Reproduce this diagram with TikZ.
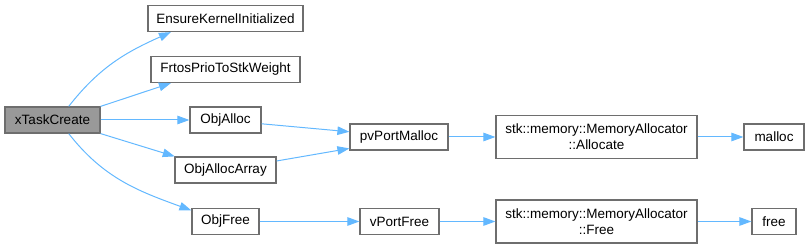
\documentclass[tikz,border=0pt]{standalone}
\usepackage{fontspec}
\setmainfont{Liberation Sans}
\usetikzlibrary{arrows.meta}
\definecolor{edgeblue}{RGB}{99,184,255}
\definecolor{boxline}{RGB}{110,110,110}
\definecolor{rootfill}{RGB}{153,153,153}

\begin{document}
\begin{tikzpicture}[x=1pt,y=-1pt,font=\fontsize{13.5}{16}\selectfont,
  fnbox/.style={draw=boxline,line width=1.2pt,fill=white,inner sep=0pt,align=center,minimum height=26pt},
  rootbox/.style={fnbox,fill=rootfill},
  edge/.style={draw=edgeblue,line width=1pt,-{Triangle[length=12pt,width=8.5pt]}}]
\useasboundingbox (0,0) rectangle (809,248);

\node[rootbox,minimum width=95pt] (xtc) at (52.5,120) {xTaskCreate};
\node[fnbox,minimum width=155pt] (ens) at (225.5,18.5) {EnsureKernelInitialized};
\node[fnbox,minimum width=149pt] (frt) at (225.5,69.5) {FrtosPrioToStkWeight};
\node[fnbox,minimum width=71pt] (alloc) at (225.5,120) {ObjAlloc};
\node[fnbox,minimum width=101pt] (arr) at (225.5,170) {ObjAllocArray};
\node[fnbox,minimum width=67pt] (ofree) at (225.5,221.5) {ObjFree};
\node[fnbox,minimum width=98pt] (pvm) at (399,137) {pvPortMalloc};
\node[fnbox,minimum width=79pt] (vpf) at (399.5,221.5) {vPortFree};
\node[fnbox,minimum width=201pt,minimum height=43pt] (allocate) at (596.5,137) {stk::memory::MemoryAllocator\\::Allocate};
\node[fnbox,minimum width=201pt,minimum height=43pt] (mfree) at (596.5,221.5) {stk::memory::MemoryAllocator\\::Free};
\node[fnbox,minimum width=60pt] (malloc) at (774,137) {malloc};
\node[fnbox,minimum width=44pt] (free) at (774,221.5) {free};

\draw[edge] (xtc.40) to[out=52,in=204] (ens.194);
\draw[edge] (xtc.north east) -- (frt.194);
\draw[edge] (xtc.east) -- (alloc.west);
\draw[edge] (xtc.south east) -- (arr.165);
\draw[edge] (xtc.-40) to[out=-52,in=160] (ofree.162);
\draw[edge] (alloc.-6) -- (pvm.174);
\draw[edge] (arr.10) -- (pvm.193);
\draw[edge] (pvm.east) -- (allocate.west);
\draw[edge] (allocate.east) -- (malloc.west);
\draw[edge] (ofree.east) -- (vpf.west);
\draw[edge] (vpf.east) -- (mfree.west);
\draw[edge] (mfree.east) -- (free.west);
\end{tikzpicture}
\end{document}
